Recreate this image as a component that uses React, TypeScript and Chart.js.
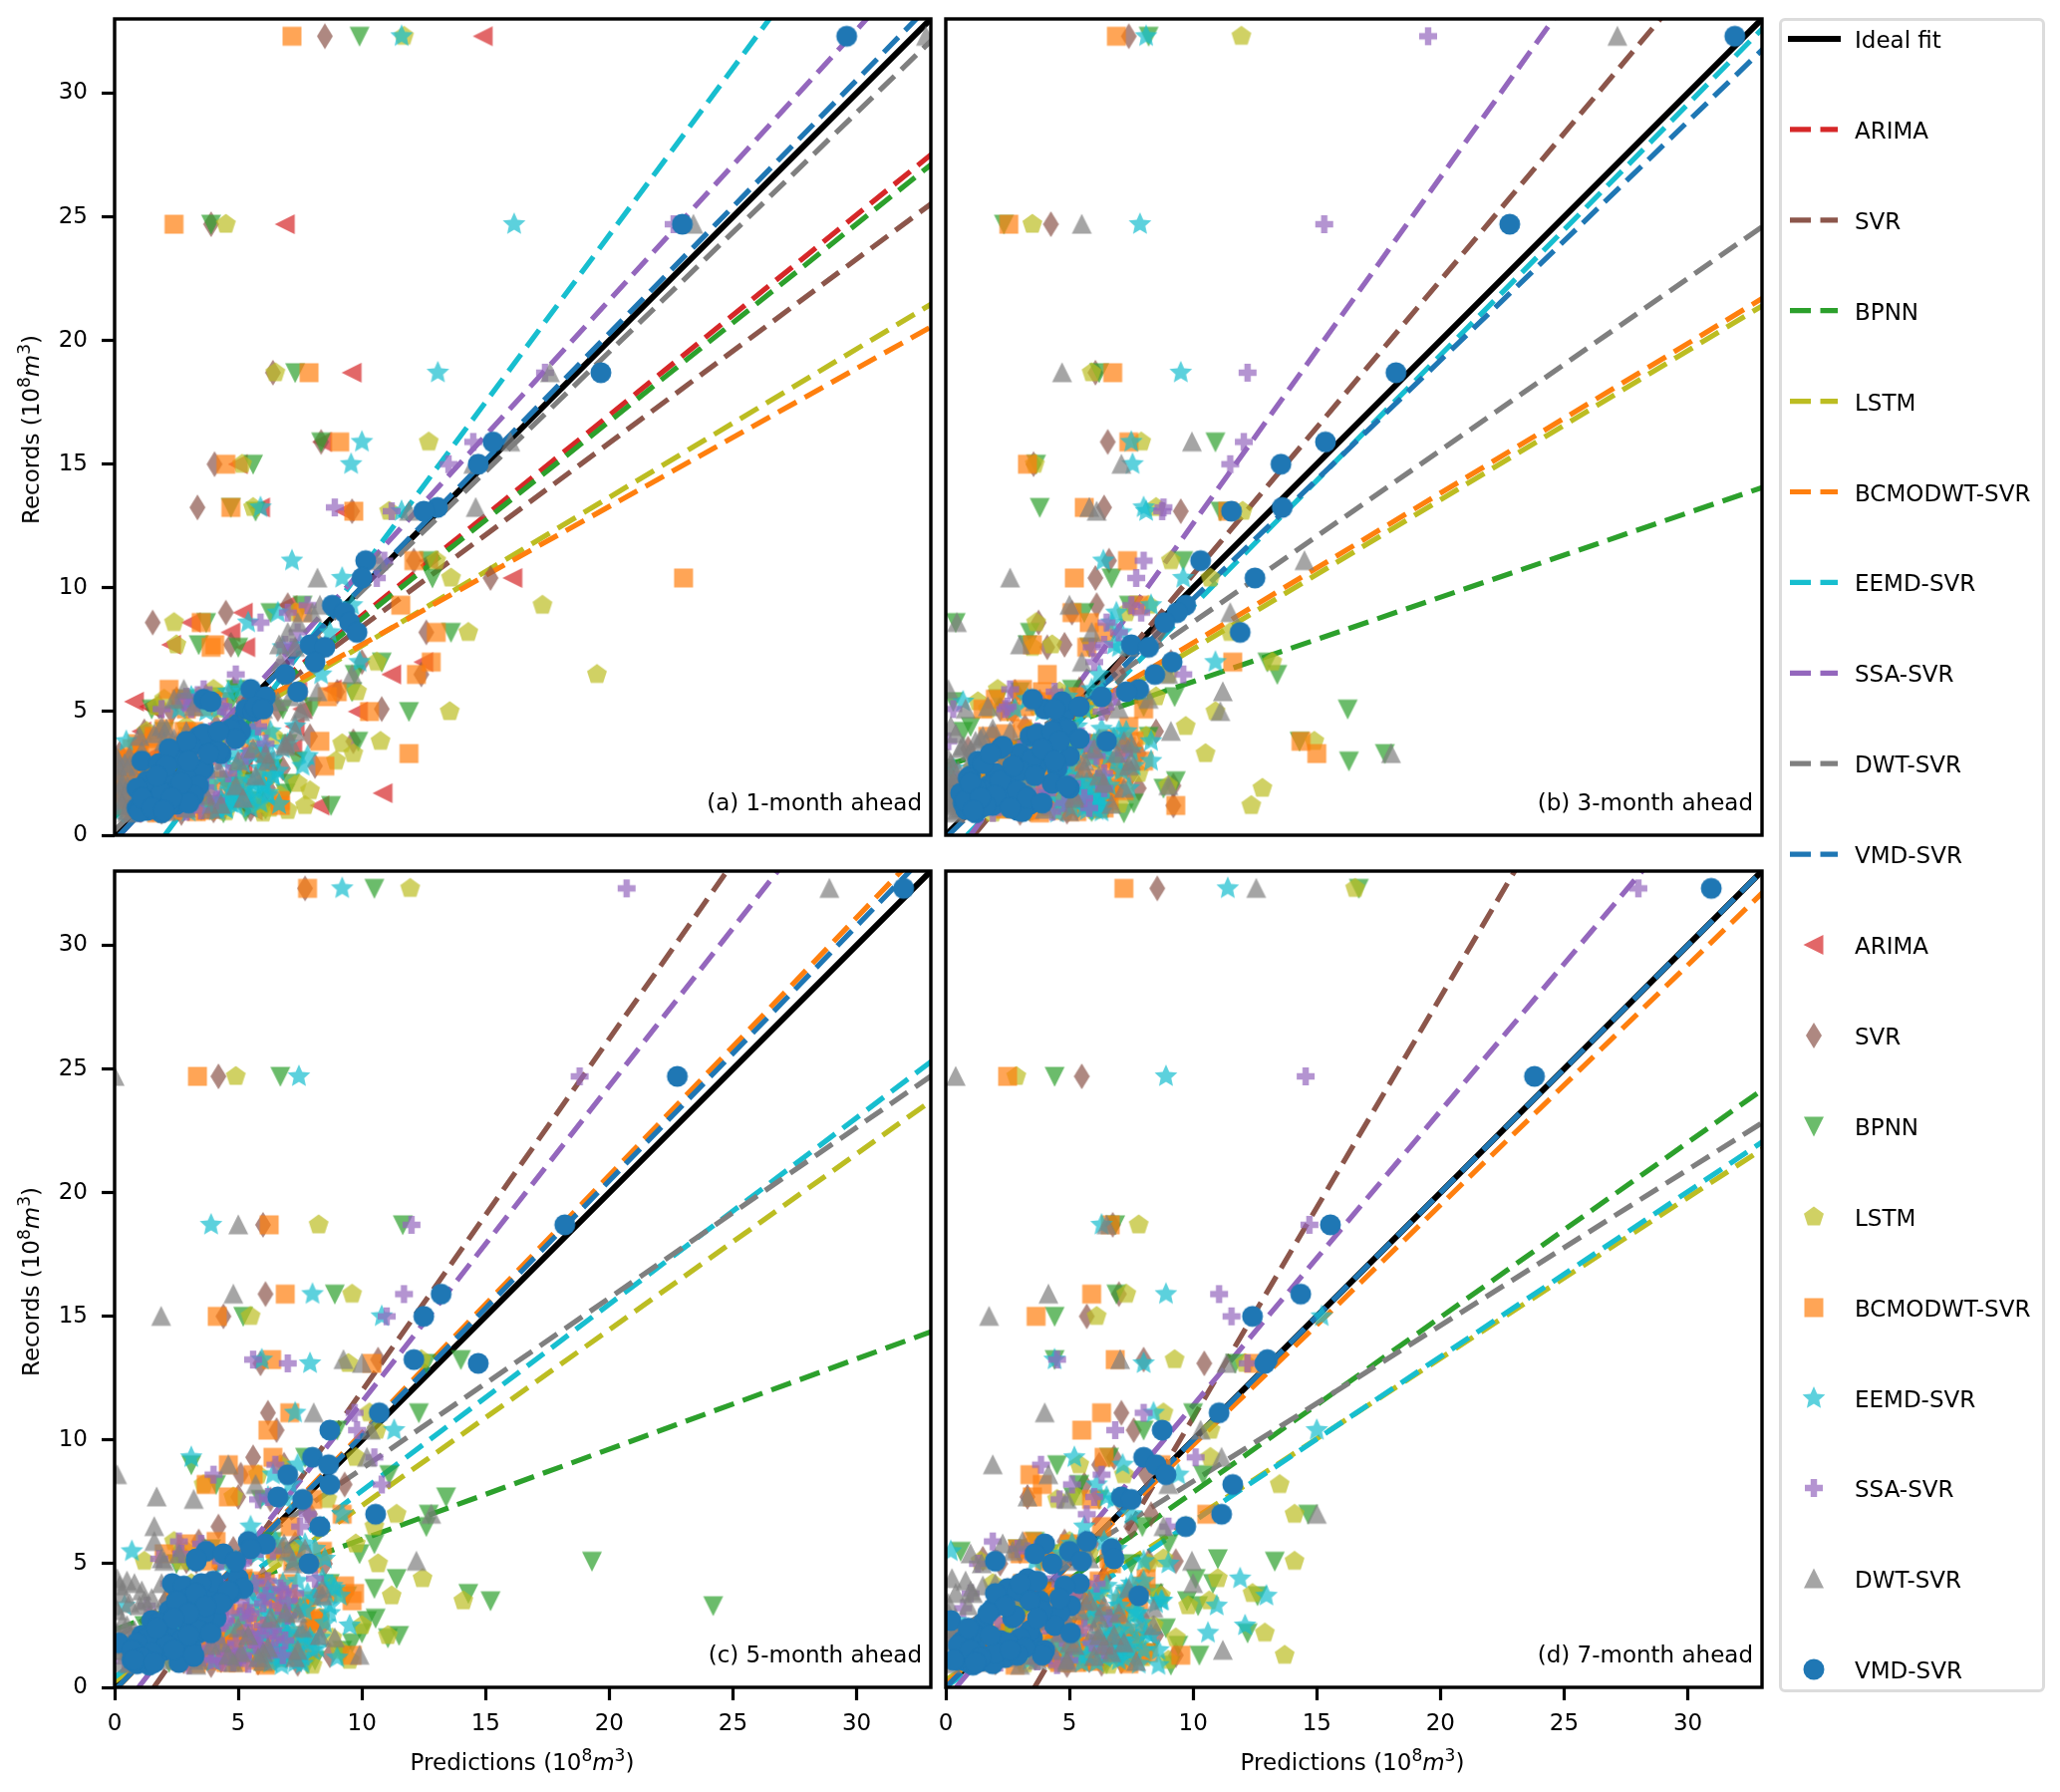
import React, { useEffect, useMemo, useRef } from "react";
import { Chart, registerables } from "chart.js";

Chart.register(...registerables);

const records = [
  32.3, 24.7, 18.7, 15.9, 15.0, 13.25, 13.1, 11.1, 10.4, 9.3,
  9.0, 8.6, 8.2, 7.7, 7.6, 7.0, 6.5, 5.9, 5.8, 5.6,
  5.1, 5.0, 4.4, 4.2, 4.0, 3.8, 3.7, 3.5, 3.3, 3.2,
  3.0, 2.8, 2.7, 2.5, 2.4, 2.2, 2.1, 2.0, 1.9, 1.8,
  1.7, 1.6, 1.5, 1.4, 1.3, 1.25, 1.2, 1.1, 1.05, 1.0, 0.95, 0.9,
  5.5, 5.4, 5.2, 5.1,
];
const recordsLow = [4.3,4.1,3.9,3.6,3.4,3.1,2.9,2.6,2.3,2.2, 2.0,1.9,1.8,1.7,1.6,1.5,1.4,1.3,1.2,1.1, 4.2,3.8,3.5,3.3,3.0,2.8,2.4,2.1,1.5,1.0];

const models = ["ARIMA", "SVR", "BPNN", "LSTM", "BCMODWT-SVR", "EEMD-SVR", "SSA-SVR", "DWT-SVR", "VMD-SVR"];
const modelColors = ["#d62728", "#8c564b", "#2ca02c", "#bcbd22", "#ff7f0e", "#17becf", "#9467bd", "#7f7f7f", "#1f77b4"];
const modelShapes = ["left", "thin", "down", "pent", "square", "star", "plus", "up", "circle"];
const tickValues = [0, 5, 10, 15, 20, 25, 30];
const panelNotes = ["(a) 1-month ahead", "(b) 3-month ahead", "(c) 5-month ahead", "(d) 7-month ahead"];

// panel (a)
const A_ARIMA = [14.9,6.9,9.6,8.4,5.0,5.9,9.3,12.7,16.1,7.0, 5.2,3.1,4.7,2.3,5.3,12.5,11.2,8.8,7.4,5.6, 1.6,9.85,7.3,1.1,3.8,0.9,2.6,7.2,4.3,1.5, 6.1,1.0,5.2,0.6,3.4,2.9,4.6,1.8,2.2,0.4,10.85,1.3,3.1,4.9,2.4,1.7,8.3,3.6,2.8,5.6,1.2,0.7, 3.9,0.8,1.4,7.6];
const A_SVR = [8.5,3.9,6.4,8.35,4.04,3.35,9.6,12.1,15.2,7.0, 4.5,1.54,12.6,4.7,8.3,10.0,12.4,4.8,9.0,3.7, 10.8,2.3,4.1,1.2,7.9,9.65,2.6,3.2,0.2,5.4, 1.7,8.1,6.8,3.3,0.9,4.7,1.1,2.9,6.2,2.1,5.0,3.6,0.7,4.3,1.4,6.0,2.4,3.0,5.5,4.0,1.9,2.7, 2.5,5.2,1.8,6.6];
const A_BPNN = [9.9,3.9,7.3,8.35,5.6,4.7,5.7,12.7,12.85,7.6, 6.3,3.7,13.6,3.4,5.0,10.8,9.7,4.9,9.6,4.1, 6.8,11.9,5.5,2.0,3.0,9.85,7.0,4.2,1.0,5.9, 7.4,2.6,6.4,3.6,1.4,5.2,7.1,2.3,4.6,0.9,6.9,3.2,0.5,5.7,1.9,4.0,8.75,2.9,6.1,3.5,5.3,4.4, 2.8,4.7,8.0,1.5];
const A_LSTM = [11.7,4.5,6.5,12.7,5.15,5.6,11.1,13.0,13.6,17.3, 7.3,2.4,14.3,2.5,8.2,10.6,19.5,4.0,9.8,3.4, 5.5,13.55,2.9,1.3,6.4,10.75,9.2,4.3,9.65,1.0, 8.95,0.7,5.0,3.1,6.2,2.1,7.4,3.8,1.6,7.9,5.2,6.7,2.4,4.8,3.5,5.8,7.7,6.3,2.7,7.0,4.5,6.0, 2.0,3.0,1.7,4.2];
const A_BCMOD = [7.17,2.4,7.86,9.1,4.5,4.7,9.67,12.1,23.0,11.57, 7.6,3.5,13.0,4.05,3.9,12.8,12.2,2.2,9.0,8.6, 2.9,10.3,5.9,3.2,1.6,8.3,0.9,5.5,11.9,3.7, 0.5,8.5,2.1,6.1,1.2,4.4,0.3,3.0,5.1,1.5,2.6,0.8,4.8,6.7,1.9,3.4,6.7,0.6,4.1,2.4,3.3,1.7, 2.7,4.2,3.6,5.4];
const A_EEMD = [11.6,16.15,13.07,10.0,9.56,5.9,11.6,7.17,9.2,9.6, 6.6,5.4,8.7,7.5,6.8,9.9,8.35,5.1,4.6,3.1, 4.2,3.7,7.3,5.6,5.2,0.47,7.0,6.1,4.8,7.8,4.4,7.6,5.9,3.5,6.4,5.0,3.9,6.0,2.9,5.7,4.9,6.2,3.3,5.3,4.7,6.65,3.8,5.5,4.5,4.1,3.0,0.1, 3.2,4.0,5.8,2.6];
const A_SSA = [null,22.6,17.4,14.5,13.5,8.9,11.2,10.9,10.6,7.8, 7.0,5.9,7.4,6.9,7.2,6.9,4.9,3.6,5.6,2.9, 3.1,4.5,5.8,3.9,5.0,4.8,6.1,3.4,2.5,5.3, 4.2,3.0,2.0,4.6,3.7,2.4,1.6,3.3,2.7,1.3,3.9,2.2,1.8,4.1,1.1,3.1,0.8,2.6,1.5,3.5,2.9,1.0, 3.4,2.8,4.4,1.9];
const A_DWT = [32.8,23.4,17.6,16.0,14.5,14.6,11.9,10.66,8.2,8.3, 8.0,7.4,7.0,6.65,7.3,6.7,9.6,2.8,8.2,7.1, 7.6,7.5,1.9,7.3,1.0,2.0,6.9,5.6,0.0,0.6, 6.2,0.1,4.2,1.7,5.7,3.4,0.3,4.9,2.7,1.1,0.9,3.7,5.2,1.4,2.3,4.3,0.8,2.9,3.9,1.6,2.1,0.5, 2.4,6.6,3.2,6.0];
const A_VMD = [29.6,22.95,19.66,15.3,14.7,13.05,12.5,10.15,10.0,8.8, 9.3,9.5,9.8,7.9,8.5,8.1,6.9,5.5,7.4,6.1, 5.3,5.6,4.9,5.1,3.4,3.8,3.0,4.0,4.3,2.6, 1.1,3.1,3.6,2.9,3.3,2.4,2.2,2.8,1.4,1.6,2.7,1.8,2.1,1.2,1.5,2.5,2.0,0.9,1.7,1.3,1.0,1.9, 3.6,3.9,5.7,6.0];

// panel (b)
const B_SVR = [7.4,4.25,6.05,6.55,3.55,6.4,9.5,6.6,6.05,6.1, 5.1,3.75,8.6,4.8,4.1,9.1,7.0,5.4,2.8,4.4, 6.5,2.7,3.2,8.5,1.9,6.2,7.1,0.9,7.8,2.3, 5.0,3.5,1.2,7.5,4.3,2.0,5.8,9.2,7.8,3.0,1.5,6.6,4.5,2.5,3.9,1.0,9.2,5.3,3.4,0.7,4.9,3.0, 4.7,3.8,5.6,2.2];
const B_BPNN = [8.2,2.35,6.2,10.9,3.65,3.8,11.1,9.6,6.7,7.4, 5.6,0.4,3.4,3.3,5.8,13.0,13.4,5.1,3.0,9.25, 16.25,2.5,1.0,0.7,8.2,14.3,6.0,4.9,17.75,1.8, 16.3,3.9,0.2,7.0,2.7,9.3,0.6,5.6,8.8,4.2,6.8,1.4,3.5,2.2,7.6,5.0,4.4,6.5,0.9,3.1,5.9,7.2, 2.1,0.3,8.0,4.6];
const B_LSTM = [11.95,3.5,5.9,7.9,3.6,8.5,12.0,9.1,10.7,8.2, 7.3,3.65,11.5,4.3,3.5,13.2,9.0,2.1,4.6,8.5, 1.7,10.9,9.7,3.4,8.1,14.9,5.6,7.4,10.5,2.4, 6.2,3.9,1.1,7.8,5.0,2.9,0.8,9.0,12.8,2.7,6.6,1.5,4.4,3.1,5.3,7.0,12.35,4.0,2.3,6.0,3.3,1.9, 4.9,1.3,3.7,5.8];
const B_BCMOD = [6.9,2.55,6.75,7.4,3.3,5.6,11.4,7.35,5.2,7.8, 5.1,5.8,6.4,3.5,5.7,11.6,4.1,3.1,3.9,5.2, 8.0,2.6,7.4,4.8,1.7,14.36,6.2,3.4,15.0,5.5, 8.0,6.7,2.2,7.0,4.5,1.3,6.0,3.6,5.0,7.2,2.9,6.5,4.2,0.9,5.9,3.0,9.3,6.4,2.4,4.7,5.3,3.8, 2.0,4.0,3.2,1.5];
const B_EEMD = [8.1,7.85,9.5,7.5,7.55,8.0,8.1,6.37,9.6,8.3, 6.9,6.7,7.1,6.8,7.0,10.9,6.2,5.9,6.3,4.9, 5.6,3.9,5.3,7.3,3.8,8.3,6.0,3.1,4.4,6.6, 8.3,5.0,0.3,4.7,2.6,6.1,3.4,5.5,1.6,6.4,4.2,5.8,2.1,6.2,3.6,4.8,6.2,5.1,1.0,5.7,6.3,4.5, 3.3,0.7,5.2,2.8];
const B_SSA = [19.5,15.3,12.2,12.05,11.5,8.8,8.75,8.0,7.7,7.5, 7.9,6.5,7.0,6.4,5.9,6.0,9.6,2.6,4.4,6.9, 2.4,6.3,4.9,3.7,5.5,0.1,5.7,3.0,7.2,6.1, 1.6,4.6,2.8,6.4,3.4,0.5,5.1,2.0,6.4,3.8,4.1,1.2,5.6,2.3,4.8,0.8,3.3,5.8,1.0,2.9,4.3,1.9, 3.6,6.7,2.5,0.3];
const B_DWT = [27.15,5.5,4.7,9.95,7.1,5.8,6.1,14.5,2.6,5.0, 11.5,0.45,5.9,3.0,7.4,5.5,9.0,0.1,11.2,6.4, 7.0,11.1,0.2,9.1,1.5,7.2,7.5,0.6,18.0,2.4, 7.5,0.9,5.6,1.9,6.2,0.1,3.2,9.0,7.2,0.5,1.1,5.2,0.0,2.8,0.3,6.7,1.3,0.7,4.0,0.2,5.0,0.4, 8.2,3.6,1.7,0.8];
const B_VMD = [31.9,22.8,18.2,15.35,13.55,13.6,11.55,10.3,12.5,9.7, 9.35,8.85,11.9,7.5,8.2,9.15,8.45,7.8,7.3,6.3, 4.0,4.8,4.6,4.9,3.4,6.5,4.2,2.2,3.0,5.0, 1.3,3.7,4.5,2.0,1.0,2.6,4.3,1.7,5.0,1.5,0.9,3.2,2.4,1.1,0.7,3.4,1.9,1.4,0.8,2.9,3.1,1.2, 3.5,4.7,5.4,4.4];

// panel (c)
const C_SVR = [7.7,4.2,6.0,6.1,4.4,10.65,5.9,6.2,6.55,5.6, 6.85,5.1,9.3,5.0,6.3,7.9,4.2,3.4,7.3,4.8, 2.9,8.5,6.0,3.8,5.6,8.2,4.4,2.1,7.3,3.5, 6.6,1.4,5.0,8.4,3.2,6.9,4.7,2.4,7.7,3.6, 6.1,1.9,5.3,7.1,8.7,3.0,6.5,4.3,2.8,5.8,7.4,3.9, 2.6,5.5,4.6,3.3];
const C_BPNN = [10.5,6.7,11.65,8.9,5.2,14.0,12.6,12.3,9.0,7.7, 3.1,11.1,4.1,13.4,5.9,12.7,12.6,6.4,10.5,3.9, 19.3,2.5,11.4,8.7,10.5,14.3,9.4,15.2,24.2,7.5, 6.9,10.55,10.2,1.2,8.0,10.0,11.5,11.05,5.7,9.6, 0.8,4.7,9.2,7.2,9.2,3.5,6.2,8.1,5.0,2.2,7.8,1.5, 6.6,9.9,4.4,3.0];
const C_LSTM = [11.95,4.9,8.25,9.6,5.5,12.4,9.45,10.3,10.6,9.75, 6.7,5.8,3.6,4.8,8.6,11.4,10.5,2.4,9.75,7.4, 2.7,10.65,12.45,3.1,6.1,9.0,11.2,14.1,7.8,4.2, 5.3,8.3,1.9,10.0,3.7,6.4,11.05,8.8,4.5,2.1,7.1,5.2,9.1,7.6,3.3,6.8,6.2,9.5,4.9,5.9,6.2,8.0, 2.9,7.2,6.5,1.2];
const C_BCMOD = [7.8,3.35,6.25,6.9,4.15,6.35,10.4,7.08,6.2,6.4, 4.6,5.6,3.7,4.6,8.0,9.2,7.1,4.1,2.9,6.5, 3.8,8.0,5.2,7.0,2.4,9.7,6.3,9.6,4.5,7.7, 5.6,3.1,8.3,6.0,1.8,4.9,7.4,5.4,3.0,6.9,4.2,7.9,2.2,5.8,9.6,3.6,6.6,4.0,2.7,5.0,3.3,6.1, 8.4,2.0,4.3,7.2];
const C_EEMD = [9.2,7.45,3.9,8.0,10.8,5.95,7.9,7.3,11.3,3.1, 7.4,6.4,7.1,6.2,6.9,9.2,5.5,6.5,7.7,8.1, 7.2,4.4,8.4,5.6,8.9,6.3,9.1,5.9,0.4,7.5, 8.7,5.1,6.8,9.5,4.7,7.0,6.0,8.3,3.2,7.8,1.1,6.6,8.0,5.3,6.1,7.6,9.0,6.75,4.0,7.3,7.6,6.75, 0.7,5.8,8.5,4.9];
const C_SSA = [20.7,18.8,12.0,11.7,11.0,5.6,7.0,9.7,9.8,10.5, 6.5,4.0,10.8,6.2,5.8,7.8,7.5,2.6,3.5,5.9, 4.3,5.1,8.1,2.2,6.7,4.9,6.1,7.0,1.3,3.4, 5.5,2.9,4.5,6.0,3.7,5.3,0.9,6.5,4.1,2.0,5.7,3.1,4.7,1.5,6.8,2.5,5.0,3.9,0.4,4.4,5.4,3.0, 6.4,2.7,1.8,5.2];
const C_DWT = [28.9,0.0,5.0,4.8,1.88,9.25,10.0,8.05,10.35,10.2, 4.6,0.1,5.7,1.7,3.2,12.8,1.6,1.6,6.85,7.7, 2.0,7.2,0.1,0.8,8.4,0.3,8.4,1.2,0.0,2.3, 6.9,1.5,3.6,0.5,7.6,2.7,5.4,8.9,0.2,4.3,3.9,6.2,0.1,5.1,9.9,1.0,7.3,2.1,6.0,4.8,0.6,3.3, 7.0,2.6,1.9,12.2];
const C_VMD = [31.9,22.75,18.2,13.2,12.5,12.1,14.7,10.7,8.7,8.0, 8.65,7.0,8.7,6.6,7.6,10.55,8.3,5.4,6.1,5.5, 3.3,7.85,5.0,2.33,5.2,4.7,3.9,4.4,2.8,3.5, 2.6,4.1,1.5,3.0,2.1,3.4,1.1,2.4,1.9,0.16,0.9,1.3,2.0,0.8,1.7,3.2,1.2,0.7,1.0,2.6,0.9,1.4, 3.7,4.4,3.3,4.9];

// panel (d)
const D_SVR = [8.55,5.5,6.75,7.0,5.7,8.0,10.45,7.1,7.6,6.8, 6.2,8.1,5.6,3.3,7.0,8.3,7.5,4.8,5.9,3.7, 9.3,2.2,6.4,7.9,3.5,5.3,8.7,2.9,7.2,4.6, 6.0,3.9,8.0,2.5,5.0,7.4,8.5,6.6,3.1,4.2,7.7,5.5,2.7,6.9,9.3,4.4,3.6,5.8,7.1,2.0,6.3,4.9, 3.0,6.7,1.5,8.2];
const D_BPNN = [16.7,4.4,6.85,6.9,4.4,4.4,11.7,10.0,8.0,6.6, 4.5,10.4,5.4,5.15,6.2,14.65,7.95,3.6,9.0,2.9, 13.3,7.5,10.1,10.8,4.0,8.4,12.6,9.75,10.2,5.9, 3.1,7.1,1.7,6.7,8.9,12.2,2.4,5.0,7.8,3.4,9.4,6.1,1.3,8.2,10.25,4.7,7.6,3.0,5.6,2.1,6.5,9.1, 0.6,4.2,11.0,3.8];
const D_LSTM = [16.55,2.85,7.8,7.3,6.1,9.25,12.1,8.8,10.7,10.7, 5.4,7.2,13.5,5.3,4.5,14.1,9.7,5.0,3.5,6.8, 14.1,8.2,11.0,1.9,6.3,12.4,8.7,10.65,9.8,3.0, 7.5,4.9,6.0,8.4,2.5,12.9,7.0,9.3,4.1,5.7,3.7,7.9,6.4,2.2,13.7,5.2,8.0,9.0,4.4,7.3,3.2,6.6, 4.7,5.8,8.8,1.4];
const D_BCMOD = [7.2,2.5,6.65,5.9,3.65,6.85,12.45,6.3,5.5,6.4, 8.7,3.4,3.9,3.5,5.9,10.55,6.3,3.5,5.0,2.9, 4.3,6.7,8.1,3.1,5.5,4.2,7.3,7.8,2.4,6.1, 3.7,5.7,7.0,2.0,4.8,7.6,3.3,6.4,1.6,5.2,4.4,6.9,2.7,8.2,9.5,3.9,5.0,1.2,6.0,4.6,7.4,2.8, 5.3,3.0,6.6,4.0];
const D_EEMD = [11.4,8.9,6.3,8.9,15.2,4.4,8.0,8.4,15.0,5.2, 7.15,9.4,6.1,6.5,6.8,7.5,5.6,6.4,5.1,6.9, 8.0,9.0,11.9,5.4,7.3,6.2,12.96,8.75,10.95,6.0, 7.7,5.8,0.4,12.1,6.6,10.6,8.3,5.2,7.1,4.5,6.3,7.4,8.6,4.9,5.7,6.9,7.2,3.4,1.0,5.5,7.8,8.6, 0.2,4.7,6.7,3.6];
const D_SSA = [28.0,14.55,14.7,11.05,11.55,4.5,12.2,8.0,6.85,10.1, 3.85,6.3,5.1,6.0,4.6,5.7,9.0,1.9,3.9,2.9, 5.5,1.3,4.4,6.1,3.2,1.0,5.2,2.4,3.6,0.7, 4.9,6.6,2.1,4.0,5.6,1.6,3.0,4.7,0.4,5.9,2.6,3.5,6.4,1.9,4.2,2.8,0.9,5.0,3.7,2.2,1.3,4.5, 3.3,6.8,2.0,5.3];
const D_DWT = [12.55,0.4,6.5,4.15,1.75,7.05,11.35,4.0,10.3,11.15, 1.9,4.15,9.0,3.3,4.9,15.0,8.8,3.1,2.3,6.6, 9.95,1.45,0.25,10.0,7.4,1.1,2.8,5.6,0.9,8.4, 0.1,6.2,3.9,8.4,0.5,4.6,6.8,2.0,0.3,7.2,5.2,1.3,11.2,0.8,3.6,6.0,2.5,4.9,7.7,1.6,0.2,3.0, 2.7,1.0,5.8,5.0];
const D_VMD = [30.95,23.8,15.55,14.35,12.4,13.0,12.9,11.05,8.75,8.0, 8.5,8.9,11.6,7.1,7.5,11.15,9.7,5.7,4.0,6.7, 2.0,4.3,3.3,5.4,2.5,3.2,7.8,3.8,5.05,1.9, 4.6,2.7,0.2,4.4,1.5,5.05,1.0,3.5,2.2,0.6,3.0,1.2,4.0,0.8,3.9,1.7,2.4,0.5,1.4,0.9,1.9,1.1, 5.0,3.6,6.8,5.5];

// further readings of the dense low range, paired with recordsLow
const A_BCMOD_LOW = [2.0,3.2,1.6,2.4,1.0,0.4,0.2,0.8,0.1,0.5, 0.2,1.2,0.4,0.1,0.9,0.2,0.6,1.5,2.0,2.6, 2.8,3.6,0.7,1.4,0.3,0.9,0.2,0.6,1.1,3.7];
const A_EEMD_LOW = [4.6,5.6,4.0,5.9,3.4,6.4,5.2,6.6,5.7,4.5, 6.0,5.3,4.7,6.2,5.0,5.5,4.3,5.9,4.9,4.5, 6.3,3.3,6.8,5.5,6.0,4.9,6.4,5.6,4.6,4.2];
const A_DWT_LOW = [2.1,1.6,2.4,6.9,1.1,0.1,0.4,0.2,0.7,0.1, 0.3,1.0,0.5,0.2,1.6,0.4,0.2,0.7,0.3,1.2, 2.9,7.1,3.1,6.1,5.0,0.6,1.4,1.9,2.2,0.5];
const A_VMD_LOW = [4.7,3.6,4.9,3.1,4.2,2.4,1.8,3.5,2.9,1.3, 3.4,0.9,2.5,1.9,3.2,1.1,2.6,3.0,2.2,1.5, 4.2,2.9,2.2,3.8,3.0,2.1,1.7,2.7,2.3,2.0];
const B_BCMOD_LOW = [3.1,2.4,6.6,7.3,5.9,6.3,5.1,5.4,6.1,4.7, 5.6,6.8,4.5,5.9,3.5,4.3,6.6,3.1,4.9,6.2, 5.0,7.6,2.8,3.9,7.0,4.2,5.2,6.0,5.0,3.4];
const B_EEMD_LOW = [6.3,5.1,6.8,5.7,7.5,5.9,4.8,7.1,6.4,5.3, 6.6,7.4,5.0,6.0,5.5,6.2,4.6,5.8,6.3,5.6, 7.0,4.4,6.5,5.2,6.9,7.6,4.9,5.7,5.4,6.1];
const B_DWT_LOW = [1.9,0.4,1.4,0.7,1.0,0.1,0.2,0.5,0.1,0.3, 0.6,0.1,0.3,0.1,0.2,0.5,0.1,0.3,0.2,0.6, 2.6,1.2,6.0,6.9,5.6,7.4,0.2,6.4,5.2,0.9];
const B_VMD_LOW = [4.9,3.7,5.4,2.3,4.2,3.5,1.5,3.0,0.9,2.2, 4.9,1.2,2.9,0.6,2.0,3.3,0.8,3.9,1.6,2.6, 4.3,4.6,3.9,1.8,4.4,2.7,3.6,1.0,1.4,1.1];
const C_BCMOD_LOW = [5.5,9.3,5.0,7.0,6.4,4.2,6.9,5.2,7.9,5.9, 4.6,6.6,7.3,5.4,3.6,6.2,4.8,7.5,3.3,5.7, 6.1,8.6,7.6,6.7,5.1,8.1,6.3,4.3,7.1,4.5];
const C_EEMD_LOW = [7.4,8.8,6.2,8.1,7.0,7.7,6.3,8.5,7.2,6.6, 7.9,5.8,7.4,6.9,8.2,6.4,7.1,5.9,6.7,7.5, 6.8,7.8,5.6,8.7,6.0,7.0,6.2,7.6,6.8,6.3];
const C_SSA_LOW = [6.2,5.0,6.8,4.6,6.0,5.3,7.0,4.4,6.4,5.5, 3.8,6.9,4.9,5.8,3.9,6.3,4.5,5.2,3.6,4.2, 5.7,7.3,5.1,6.6,4.7,5.4,4.1,5.9,3.4,4.8];
const C_DWT_LOW = [0.5,0.2,1.1,1.5,0.6,0.1,1.9,0.3,0.8,0.1, 0.4,1.3,0.2,0.1,0.6,0.2,6.0,4.6,5.8,3.4, 1.9,2.4,2.0,1.0,7.4,6.3,5.0,8.3,7.4,0.3];
const C_VMD_LOW = [4.0,2.8,4.6,3.0,4.3,2.2,3.6,1.8,3.4,3.9, 1.3,2.7,0.9,2.1,3.1,0.7,1.5,3.2,1.1,0.8, 3.5,3.3,2.5,3.7,3.0,2.4,1.7,3.0,2.4,1.6];
const D_BCMOD_LOW = [6.2,7.9,4.4,5.9,7.1,4.0,6.5,3.5,5.2,6.8, 5.4,3.0,4.6,6.3,7.3,5.0,3.9,7.8,4.3,5.7, 5.1,7.5,6.0,4.7,5.6,6.9,3.3,4.1,6.2,5.3];
const D_EEMD_LOW = [8.0,6.5,7.3,6.9,8.5,7.6,6.2,7.9,7.0,8.1, 6.6,7.7,7.2,5.9,6.8,8.0,7.4,5.4,6.4,7.0, 7.5,6.0,8.7,7.0,7.8,6.7,7.4,6.3,6.9,6.1];
const D_DWT_LOW = [0.8,1.5,1.0,3.9,0.1,5.4,4.8,0.2,6.0,0.1, 3.3,0.4,5.0,6.4,0.1,4.3,6.7,3.0,0.3,3.7, 2.0,0.4,5.8,6.4,7.0,4.4,0.2,6.2,0.5,4.9];
const D_VMD_LOW = [3.7,4.8,2.9,4.6,2.2,3.9,2.8,1.5,3.4,1.1, 3.0,0.7,2.5,0.5,3.2,1.0,2.0,2.9,1.4,0.3, 3.0,2.0,3.4,2.4,1.7,3.7,0.9,1.8,2.6,1.2];

const predictionsA = [A_ARIMA, A_SVR, A_BPNN, A_LSTM, A_BCMOD, A_EEMD, A_SSA, A_DWT, A_VMD];
const predictionsB = [null, B_SVR, B_BPNN, B_LSTM, B_BCMOD, B_EEMD, B_SSA, B_DWT, B_VMD];
const predictionsC = [null, C_SVR, C_BPNN, C_LSTM, C_BCMOD, C_EEMD, C_SSA, C_DWT, C_VMD];
const predictionsD = [null, D_SVR, D_BPNN, D_LSTM, D_BCMOD, D_EEMD, D_SSA, D_DWT, D_VMD];
const lowA = [null, null, null, null, A_BCMOD_LOW, A_EEMD_LOW, null, A_DWT_LOW, A_VMD_LOW];
const lowB = [null, null, null, null, B_BCMOD_LOW, B_EEMD_LOW, null, B_DWT_LOW, B_VMD_LOW];
const lowC = [null, null, null, null, C_BCMOD_LOW, C_EEMD_LOW, C_SSA_LOW, C_DWT_LOW, C_VMD_LOW];
const lowD = [null, null, null, null, D_BCMOD_LOW, D_EEMD_LOW, null, D_DWT_LOW, D_VMD_LOW];

// fitted line of each model: [slope, intercept], in the models' order
const fitsA = [[0.81, 0.78], [0.743, 1.0], [0.798, 0.77], [0.6, 1.66], [0.558, 2.13], [1.35, -2.74], [1.093, -0.23], [0.967, 0.2], [1.024, -0.19]];
const fitsB = [null, [1.189, -1.35], [0.341, 2.8], [0.603, 1.5], [0.605, 1.73], [1.014, -0.87], [1.4, -1.4], [0.695, 1.66], [0.965, -0.1]];
const fitsC = [null, [1.424, -2.26], [0.365, 2.33], [0.711, 0.24], [1.042, -0.14], [0.754, 0.41], [1.277, -1.23], [0.69, 1.94], [1.03, -0.12]];
const fitsD = [null, [1.7, -6.1], [0.707, 0.82], [0.65, 0.3], [0.97, 0.1], [0.667, 0.03], [1.19, -0.5], [0.63, 2.03], [1.0, 0.0]];

const axisMax = 33;
const FONT = "'DejaVu Sans', sans-serif";
const AREA = 819;
const MARGIN_L = 100, MARGIN_T = 10, MARGIN_R = 10, MARGIN_B = 70;

function tracePath(ctx: CanvasRenderingContext2D, shape: string) {
  const poly = (pts: number[][]) => {
    ctx.beginPath();
    pts.forEach((p, i) => (i ? ctx.lineTo(p[0], p[1]) : ctx.moveTo(p[0], p[1])));
    ctx.closePath();
  };
  const h = 9.5;
  if (shape === "circle") { ctx.beginPath(); ctx.arc(0, 0, 10.5, 0, Math.PI * 2); }
  else if (shape === "square") poly([[-h, -h], [h, -h], [h, h], [-h, h]]);
  else if (shape === "up") poly([[0, -h - 1], [h + 0.5, h], [-h - 0.5, h]]);
  else if (shape === "down") poly([[0, h + 1], [h + 0.5, -h], [-h - 0.5, -h]]);
  else if (shape === "left") poly([[-h - 1, 0], [h, -h - 0.5], [h, h + 0.5]]);
  else if (shape === "thin") poly([[0, -13], [8, 0], [0, 13], [-8, 0]]);
  else if (shape === "pent") {
    const p: number[][] = [];
    for (let i = 0; i < 5; i++) { const a = -Math.PI / 2 + (i * 2 * Math.PI) / 5; p.push([10.5 * Math.cos(a), 10.5 * Math.sin(a)]); }
    poly(p);
  } else if (shape === "star") {
    const p: number[][] = [];
    for (let i = 0; i < 10; i++) { const a = -Math.PI / 2 + (i * Math.PI) / 5; const r = i % 2 ? 5.6 : 12; p.push([r * Math.cos(a), r * Math.sin(a)]); }
    poly(p);
  } else if (shape === "plus") {
    const a = 9, b = 3.2;
    poly([[-b, -a], [b, -a], [b, -b], [a, -b], [a, b], [b, b], [b, a], [-b, a], [-b, b], [-a, b], [-a, -b], [-b, -b]]);
  }
}

function markerCanvas(shape: string, color: string, alpha: number) {
  const c = document.createElement("canvas");
  c.width = 30; c.height = 30;
  const ctx = c.getContext("2d")!;
  ctx.translate(15, 15);
  ctx.globalAlpha = alpha;
  ctx.fillStyle = color;
  tracePath(ctx, shape);
  ctx.fill();
  return c;
}

function alphaOf(i: number) { return i === 8 ? 1 : 0.7; }

const framePlugin = {
  id: "frame",
  afterDatasetsDraw(chart: any) {
    const { ctx, chartArea: a } = chart;
    ctx.save();
    ctx.strokeStyle = "#000";
    ctx.lineWidth = 3.4;
    ctx.strokeRect(a.left, a.top, a.right - a.left, a.bottom - a.top);
    ctx.restore();
  },
};

function Panel({ left, top, preds, low, fits, showX, showY, note }: any) {
  const ref = useRef<HTMLCanvasElement>(null);
  useEffect(() => {
    const lines: any[] = [];
    lines.push({
      label: "Ideal fit", data: [{ x: 0, y: 0 }, { x: axisMax, y: axisMax }], showLine: true, pointRadius: 0,
      borderColor: "#000", borderWidth: 6, order: 200,
    });
    fits.forEach((f: number[] | null, i: number) => {
      if (!f) return;
      const x0 = Math.max(0, -f[1] / f[0]);
      const x1 = Math.min(axisMax + 1, (axisMax + 1 - f[1]) / f[0]);
      lines.push({
        label: models[i] + " fit", data: [{ x: x0, y: f[0] * x0 + f[1] }, { x: x1, y: f[0] * x1 + f[1] }],
        showLine: true, pointRadius: 0, borderColor: modelColors[i], borderWidth: 5.2, borderDash: [21, 9.5], order: 199 - i,
      });
    });
    const points: any[] = [];
    preds.forEach((xs: (number | null)[] | null, i: number) => {
      if (!xs) return;
      const main = xs.slice(0, records.length).map((x, k) => ({ x, y: records[k] })).filter((p) => p.x !== null);
      const extra = (low[i] || []).map((x: number, k: number) => ({ x, y: recordsLow[k] }));
      points.push({
        label: models[i],
        data: [...main, ...extra],
        showLine: false, pointStyle: markerCanvas(modelShapes[i], modelColors[i], alphaOf(i)), pointRadius: 10, borderWidth: 0,
        order: 8 - i,
      });
    });
    const axis = (horizontal: boolean, show: boolean) => ({
      type: "linear", min: 0, max: axisMax,
      position: horizontal ? "bottom" : "left",
      afterFit(s: any) {
        if (horizontal) s.height = MARGIN_B; else s.width = MARGIN_L;
        s.paddingTop = 0; s.paddingBottom = 0; s.paddingLeft = 0; s.paddingRight = 0;
      },
      afterBuildTicks(s: any) { s.ticks = tickValues.map((value) => ({ value })); },
      ticks: {
        display: show, includeBounds: false, autoSkip: false, maxRotation: 0, color: "#000", padding: horizontal ? 10 : 14,
        font: { family: FONT, size: 23 },
        callback: (v: number) => String(v),
      },
      grid: { display: show, drawOnChartArea: false, drawTicks: show, tickLength: 13, tickWidth: 3.2, tickColor: "#000", color: "#000" },
      border: { display: false },
    });
    const chart = new Chart(ref.current!, {
      type: "scatter",
      data: { datasets: [...points, ...lines] },
      plugins: [framePlugin],
      options: {
        responsive: false, animation: false, devicePixelRatio: 1,
        layout: { padding: { top: MARGIN_T, right: MARGIN_R, left: 0, bottom: 0 } },
        plugins: { legend: { display: false }, tooltip: { enabled: false }, title: { display: false } },
        events: [],
        scales: { x: axis(true, showX), y: axis(false, showY) },
      } as any,
    } as any);
    return () => chart.destroy();
  }, []);
  return (
    <>
      <canvas
        ref={ref}
        width={AREA + MARGIN_L + MARGIN_R}
        height={AREA + MARGIN_T + MARGIN_B}
        style={{ position: "absolute", left: left - MARGIN_L, top: top - MARGIN_T, display: "block" }}
      />
      <div style={{ position: "absolute", right: 2067 - (left + AREA - 9), top: top + AREA - 47, font: `23px ${FONT}`, color: "#000", whiteSpace: "nowrap", lineHeight: "28px" }}>
        {note}
      </div>
    </>
  );
}

function AxisTitle({ x, y, rotate, word }: any) {
  return (
    <div style={{ position: "absolute", left: x, top: y, transform: `translate(-50%,-50%)${rotate ? " rotate(-90deg)" : ""}`, font: `23px ${FONT}`, color: "#000", whiteSpace: "nowrap", lineHeight: "28px" }}>
      {word} (10<sup style={{ fontSize: 17, lineHeight: 0 }}>8</sup><i>m</i><sup style={{ fontSize: 17, lineHeight: 0 }}>3</sup>)
    </div>
  );
}

function Legend() {
  const icons = useMemo(() => models.map((_, i) => markerCanvas(modelShapes[i], modelColors[i], alphaOf(i)).toDataURL()), []);
  const row = (i: number) => 39 + 90.9 * i;
  const label = (t: string, i: number) => (
    <div key={"t" + i} style={{ position: "absolute", left: 1861, top: row(i) - 13, font: `23px ${FONT}`, lineHeight: "28px", color: "#000", whiteSpace: "nowrap" }}>{t}</div>
  );
  return (
    <>
      <div style={{ position: "absolute", left: 1785, top: 18, width: 267, height: 1680, border: "3px solid #dcdcdc", borderRadius: 6, boxSizing: "border-box", background: "#fff" }} />
      <svg width={2067} height={1798} style={{ position: "absolute", left: 0, top: 0, pointerEvents: "none" }}>
        <line x1={1794} x2={1847} y1={row(0)} y2={row(0)} stroke="#000" strokeWidth={6} />
        {models.map((_, i) => (
          <line key={i} x1={1796} x2={1844} y1={row(i + 1)} y2={row(i + 1)} stroke={modelColors[i]} strokeWidth={5.2} strokeDasharray="21 9.5" />
        ))}
      </svg>
      {label("Ideal fit", 0)}
      {models.map((m, i) => label(m, i + 1))}
      {models.map((m, i) => (
        <React.Fragment key={m}>
          <img src={icons[i]} width={30} height={30} alt="" style={{ position: "absolute", left: 1805, top: row(i + 10) - 15 }} />
          {label(m, i + 10)}
        </React.Fragment>
      ))}
    </>
  );
}

export default function App() {
  return (
    <div style={{ position: "absolute", left: 0, top: 0, width: 2067, height: 1798, background: "#fff", overflow: "hidden" }}>
      <Panel left={115} top={19} preds={predictionsA} low={lowA} fits={fitsA} showX={false} showY={true} note={panelNotes[0]} />
      <Panel left={949} top={19} preds={predictionsB} low={lowB} fits={fitsB} showX={false} showY={false} note={panelNotes[1]} />
      <Panel left={115} top={874} preds={predictionsC} low={lowC} fits={fitsC} showX={true} showY={true} note={panelNotes[2]} />
      <Panel left={949} top={874} preds={predictionsD} low={lowD} fits={fitsD} showX={true} showY={false} note={panelNotes[3]} />
      <AxisTitle x={31} y={431} rotate word="Records" />
      <AxisTitle x={31} y={1286} rotate word="Records" />
      <AxisTitle x={524} y={1768} word="Predictions" />
      <AxisTitle x={1357} y={1768} word="Predictions" />
      <Legend />
    </div>
  );
}
